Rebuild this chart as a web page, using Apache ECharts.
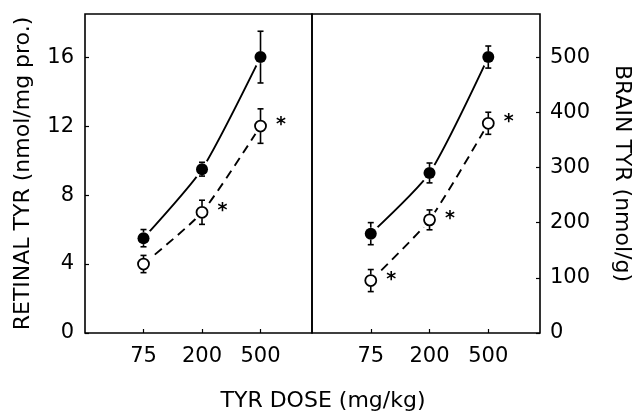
<!DOCTYPE html>
<html>
<head>
<meta charset="utf-8">
<script src="https://cdn.jsdelivr.net/npm/echarts@6/dist/echarts.min.js"></script>
<style>
  html, body { margin: 0; padding: 0; background: #fff; }
  #chart { width: 637px; height: 415px; }
</style>
</head>
<body>
<div id="chart"></div>
<script>
// dose categories, placed at x = 1, 2, 3 in each panel
const doses = ['75', '200', '500']
const doseX = [1, 2, 3]

// retina (left panel), nmol/mg protein
const retinaFilled = [5.5, 9.5, 16.0]
const retinaFilledErr = [0.5, 0.4, 1.5]
const retinaOpen = [4.0, 7.0, 12.0]
const retinaOpenErr = [0.5, 0.7, 1.0]
const retinaStars = [false, true, true]
const retinaTicks = [0, 4, 8, 12, 16]

// brain (right panel), nmol/g
const brainFilled = [180, 290, 500]
const brainFilledErr = [20, 18, 20]
const brainOpen = [95, 205, 380]
const brainOpenErr = [20, 18, 20]
const brainStars = [true, true, true]
const brainTicks = [0, 100, 200, 300, 400, 500]

const font = 'DejaVu Sans'
const black = '#000'
const tickSize = 21
const nameSize = 22
const markR = 6

function points (vals, stars) {
  return vals.map((v, i) => {
    const item = { value: [doseX[i], v] }
    if (stars && stars[i]) {
      item.label = {
        show: true,
        formatter: '*',
        position: 'right',
        distance: 9,
        offset: [0, -1],
        color: black,
        fontSize: 19,
        fontWeight: 'bold',
        fontFamily: font
      }
    }
    return item
  })
}

function errData (vals, errs) {
  return vals.map((v, i) => [doseX[i], v, v - errs[i], v + errs[i]])
}

// error bars start at the marker's edge and end in a small cap
function errSeries (vals, errs, axis) {
  return {
    type: 'custom',
    xAxisIndex: axis,
    yAxisIndex: axis,
    z: 6,
    silent: true,
    data: errData(vals, errs),
    renderItem: function (params, api) {
      const mid = api.coord([api.value(0), api.value(1)])
      const lo = api.coord([api.value(0), api.value(2)])
      const hi = api.coord([api.value(0), api.value(3)])
      const w = 3
      const style = { stroke: black, lineWidth: 1.6 }
      const x = mid[0]
      const kids = [
        { type: 'line', shape: { x1: x - w, y1: lo[1], x2: x + w, y2: lo[1] }, style: style },
        { type: 'line', shape: { x1: x - w, y1: hi[1], x2: x + w, y2: hi[1] }, style: style }
      ]
      if (lo[1] > mid[1] + markR) {
        kids.push({ type: 'line', shape: { x1: x, y1: mid[1] + markR, x2: x, y2: lo[1] }, style: style })
      }
      if (hi[1] < mid[1] - markR) {
        kids.push({ type: 'line', shape: { x1: x, y1: mid[1] - markR, x2: x, y2: hi[1] }, style: style })
      }
      return { type: 'group', children: kids }
    }
  }
}

function lineSeries (vals, axis, open) {
  return {
    type: 'line',
    xAxisIndex: axis,
    yAxisIndex: axis,
    z: 3,
    smooth: 0.2,
    symbol: 'none',
    silent: true,
    lineStyle: { color: black, width: 1.9, type: open ? [9, 6] : 'solid' },
    data: vals.map((v, i) => [doseX[i], v])
  }
}

// white disc under each marker leaves a small gap where the line meets it
function haloSeries (vals, axis) {
  return {
    type: 'scatter',
    xAxisIndex: axis,
    yAxisIndex: axis,
    z: 4,
    silent: true,
    symbol: 'circle',
    symbolSize: 19,
    itemStyle: { color: '#fff', opacity: 1 },
    data: vals.map((v, i) => [doseX[i], v])
  }
}

function markSeries (vals, stars, axis, open) {
  return {
    type: 'scatter',
    xAxisIndex: axis,
    yAxisIndex: axis,
    z: 5,
    symbol: 'circle',
    symbolSize: open ? 11 : 12,
    itemStyle: open
      ? { color: '#fff', borderColor: black, borderWidth: 1.8, opacity: 1 }
      : { color: black, opacity: 1 },
    data: points(vals, stars)
  }
}

function xAxisFor (idx) {
  return {
    type: 'value',
    gridIndex: idx,
    min: 0,
    max: 3.88,
    splitLine: { show: false },
    axisLine: { show: false, onZero: false },
    axisTick: { show: true, inside: true, length: 4, customValues: doseX, lineStyle: { color: black, width: 1.2 } },
    axisLabel: {
      customValues: doseX,
      formatter: v => doses[doseX.indexOf(v)] || '',
      margin: 13,
      color: black,
      fontSize: tickSize,
      fontFamily: font
    }
  }
}

const chart = echarts.init(document.getElementById('chart'))
chart.setOption({
  animation: false,
  backgroundColor: '#fff',
  grid: [
    { left: 85, right: 325, top: 14, bottom: 82, show: true, borderColor: black, borderWidth: 1.6 },
    { left: 312, right: 97, top: 14, bottom: 82, show: true, borderColor: black, borderWidth: 1.6 }
  ],
  xAxis: [xAxisFor(0), xAxisFor(1)],
  yAxis: [
    {
      type: 'value',
      gridIndex: 0,
      min: 0,
      max: 18.5,
      splitLine: { show: false },
      axisLine: { show: false, onZero: false },
      axisTick: { show: true, inside: true, length: 4, customValues: retinaTicks, lineStyle: { color: black, width: 1.2 } },
      axisLabel: { customValues: retinaTicks, margin: 11, color: black, fontSize: tickSize, fontFamily: font },
      name: 'RETINAL TYR (nmol/mg pro.)',
      nameLocation: 'middle',
      nameRotate: 90,
      nameGap: 51,
      nameTextStyle: { color: black, fontSize: nameSize, fontFamily: font }
    },
    {
      type: 'value',
      gridIndex: 1,
      position: 'right',
      min: 0,
      max: 578,
      splitLine: { show: false },
      axisLine: { show: false, onZero: false },
      axisTick: { show: true, inside: true, length: 4, customValues: brainTicks, lineStyle: { color: black, width: 1.2 } },
      axisLabel: { customValues: brainTicks, margin: 10, color: black, fontSize: tickSize, fontFamily: font },
      name: 'BRAIN TYR (nmol/g)',
      nameLocation: 'middle',
      nameRotate: -90,
      nameGap: 71,
      nameTextStyle: { color: black, fontSize: nameSize, fontFamily: font }
    }
  ],
  graphic: [
    {
      type: 'text',
      x: 323,
      y: 401,
      style: {
        text: 'TYR DOSE (mg/kg)',
        fill: black,
        fontSize: nameSize,
        fontFamily: font,
        textAlign: 'center',
        textVerticalAlign: 'middle'
      }
    }
  ],
  series: [
    lineSeries(retinaFilled, 0, false),
    lineSeries(retinaOpen, 0, true),
    lineSeries(brainFilled, 1, false),
    lineSeries(brainOpen, 1, true),
    haloSeries(retinaFilled, 0),
    haloSeries(retinaOpen, 0),
    haloSeries(brainFilled, 1),
    haloSeries(brainOpen, 1),
    markSeries(retinaFilled, null, 0, false),
    markSeries(retinaOpen, retinaStars, 0, true),
    markSeries(brainFilled, null, 1, false),
    markSeries(brainOpen, brainStars, 1, true),
    errSeries(retinaFilled, retinaFilledErr, 0),
    errSeries(retinaOpen, retinaOpenErr, 0),
    errSeries(brainFilled, brainFilledErr, 1),
    errSeries(brainOpen, brainOpenErr, 1)
  ]
})
</script>
</body>
</html>
